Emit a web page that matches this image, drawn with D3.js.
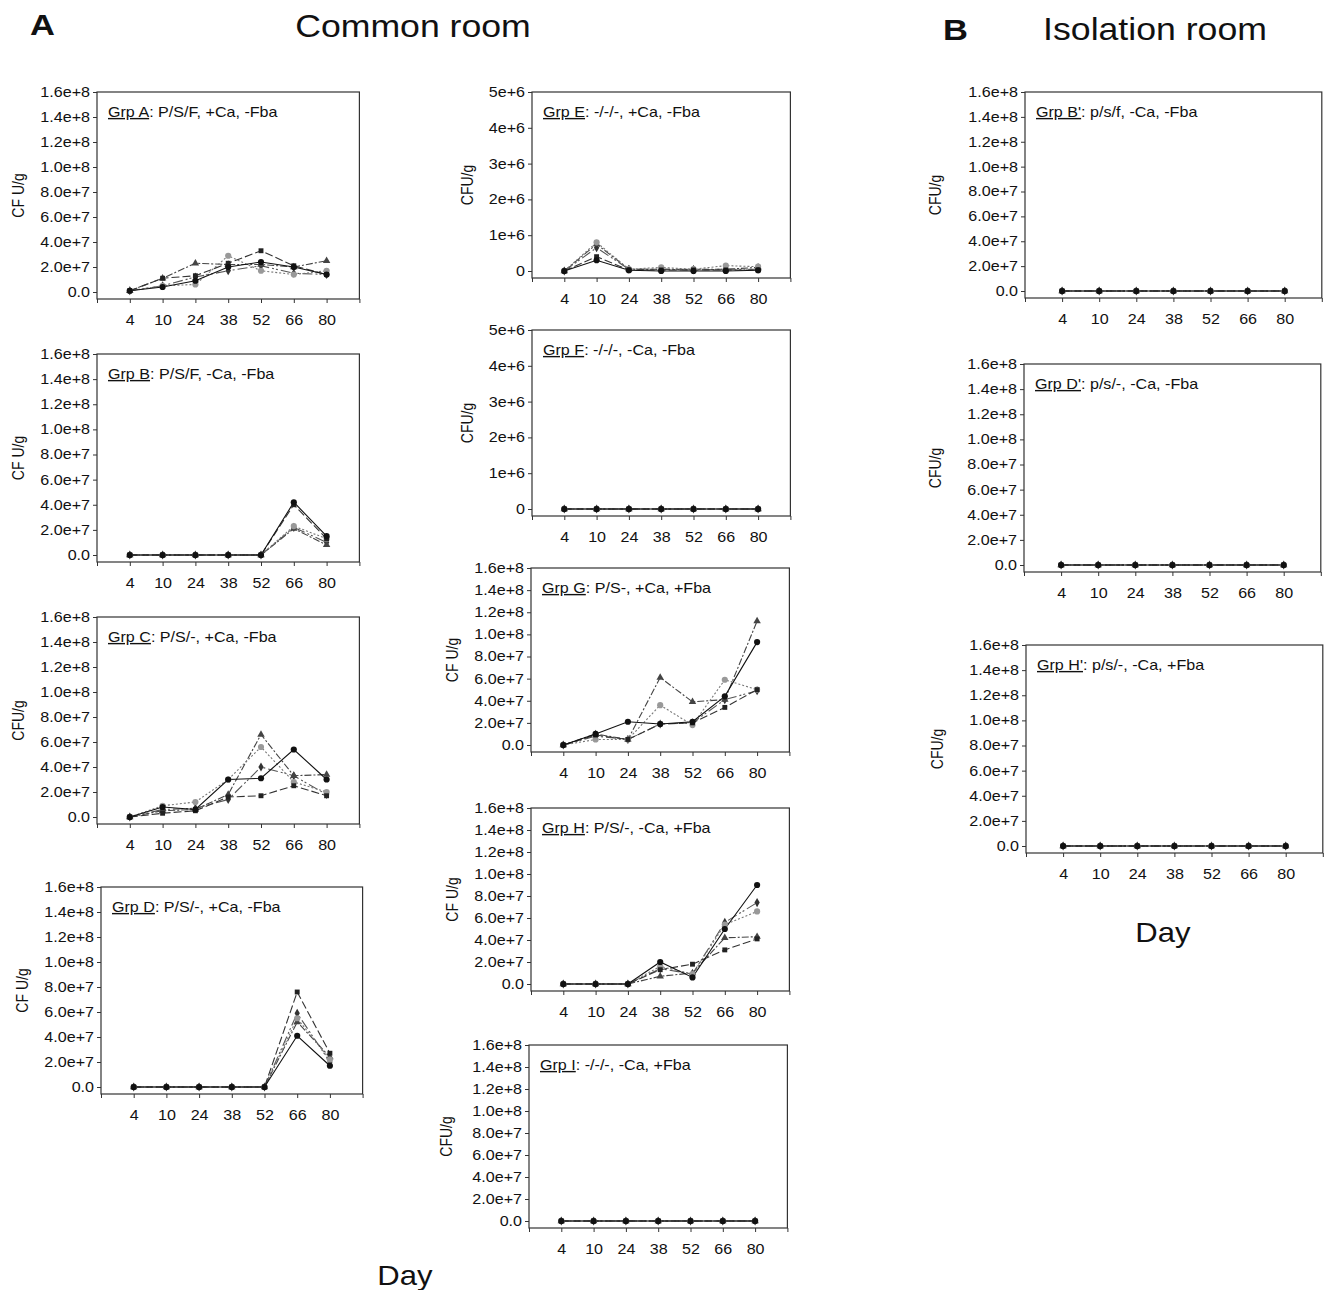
<!DOCTYPE html>
<html>
<head>
<meta charset="utf-8">
<script src="https://cdn.jsdelivr.net/npm/d3@7"></script>
<style>
  body { margin: 0; background: #fff; }
  svg text { font-family: "Liberation Sans", Arial, sans-serif; fill: #111; transform-box: fill-box; }
  .sx { transform: scaleX(1.15); }
  .sy { transform: scaleY(1.15); }
</style>
</head>
<body>
<script>
// sampling days (x categories)
const days = ["4", "10", "24", "38", "52", "66", "80"];

// y tick values
const cfuTicks = [0, 2e7, 4e7, 6e7, 8e7, 1e8, 1.2e8, 1.4e8, 1.6e8];
const lowTicks = [0, 1e6, 2e6, 3e6, 4e6, 5e6];

// five animals per group, CFU/g at each day
const grpA = [
  [1e6, 4e6, 9e6, 2.0e7, 2.4e7, 2.0e7, 1.4e7],
  [1e6, 1.1e7, 1.3e7, 2.3e7, 3.3e7, 2.1e7, 1.4e7],
  [1e6, 5e6, 6e6, 2.9e7, 1.7e7, 1.4e7, 1.7e7],
  [1e6, 1.1e7, 2.3e7, 2.2e7, 2.2e7, 2.0e7, 2.5e7],
  [1e6, 5e6, 1.2e7, 1.7e7, 2.1e7, 1.5e7, 1.4e7]
];
const grpB = [
  [0, 0, 0, 0, 0, 4.2e7, 1.5e7],
  [0, 0, 0, 0, 0, 4.0e7, 1.3e7],
  [0, 0, 0, 0, 0, 2.3e7, 1.3e7],
  [0, 0, 0, 0, 0, 2.1e7, 0.8e7],
  [0, 0, 0, 0, 0, 2.2e7, 1.0e7]
];
const grpC = [
  [0, 8e6, 6e6, 3.0e7, 3.1e7, 5.4e7, 3.0e7],
  [0, 3e6, 5e6, 1.6e7, 1.7e7, 2.5e7, 1.7e7],
  [0, 9e6, 1.2e7, 3.0e7, 5.6e7, 2.8e7, 2.0e7],
  [0, 5e6, 6e6, 1.8e7, 6.6e7, 3.3e7, 3.4e7],
  [0, 6e6, 7e6, 1.4e7, 4.0e7, 3.3e7, 1.8e7]
];
const grpD = [
  [0, 0, 0, 0, 0, 4.1e7, 1.7e7],
  [0, 0, 0, 0, 0, 7.6e7, 2.7e7],
  [0, 0, 0, 0, 0, 5.5e7, 2.2e7],
  [0, 0, 0, 0, 0, 5.2e7, 2.4e7],
  [0, 0, 0, 0, 0, 5.9e7, 2.0e7]
];
const grpE = [
  [0, 3.0e5, 2e4, 0, 0, 0, 2e4],
  [0, 4.0e5, 3e4, 3e4, 3e4, 3e4, 3e4],
  [0, 8.0e5, 5e4, 1.0e5, 5e4, 1.5e5, 1.2e5],
  [0, 7.5e5, 5e4, 5e4, 5e4, 5e4, 1.0e5],
  [0, 6.5e5, 5e4, 5e4, 3e4, 5e4, 5e4]
];
const grpF = [
  [0, 0, 0, 0, 0, 0, 0],
  [0, 0, 0, 0, 0, 0, 0],
  [0, 0, 0, 0, 0, 0, 0],
  [0, 0, 0, 0, 0, 0, 0],
  [0, 0, 0, 0, 0, 0, 0]
];
const grpG = [
  [0, 1.0e7, 2.1e7, 1.9e7, 2.1e7, 4.4e7, 9.3e7],
  [0, 9e6, 5e6, 1.9e7, 2.0e7, 3.4e7, 5.0e7],
  [0, 5e6, 5e6, 3.6e7, 1.8e7, 5.9e7, 5.0e7],
  [0, 1.0e7, 5e6, 6.1e7, 3.9e7, 4.1e7, 1.12e8],
  [0, 8e6, 5e6, 1.9e7, 2.0e7, 4.1e7, 4.9e7]
];
const grpH = [
  [0, 0, 0, 2.0e7, 6e6, 5.0e7, 9.0e7],
  [0, 0, 0, 1.3e7, 1.8e7, 3.1e7, 4.1e7],
  [0, 0, 0, 1.6e7, 9e6, 5.4e7, 6.6e7],
  [0, 0, 0, 7e6, 1.0e7, 4.2e7, 4.3e7],
  [0, 0, 0, 1.4e7, 9e6, 5.6e7, 7.4e7]
];
const grpI = [
  [0, 0, 0, 0, 0, 0, 0],
  [0, 0, 0, 0, 0, 0, 0],
  [0, 0, 0, 0, 0, 0, 0],
  [0, 0, 0, 0, 0, 0, 0],
  [0, 0, 0, 0, 0, 0, 0]
];
const grpBp = [
  [0, 0, 0, 0, 0, 0, 0],
  [0, 0, 0, 0, 0, 0, 0],
  [0, 0, 0, 0, 0, 0, 0],
  [0, 0, 0, 0, 0, 0, 0],
  [0, 0, 0, 0, 0, 0, 0]
];
const grpDp = [
  [0, 0, 0, 0, 0, 0, 0],
  [0, 0, 0, 0, 0, 0, 0],
  [0, 0, 0, 0, 0, 0, 0],
  [0, 0, 0, 0, 0, 0, 0],
  [0, 0, 0, 0, 0, 0, 0]
];
const grpHp = [
  [0, 0, 0, 0, 0, 0, 0],
  [0, 0, 0, 0, 0, 0, 0],
  [0, 0, 0, 0, 0, 0, 0],
  [0, 0, 0, 0, 0, 0, 0],
  [0, 0, 0, 0, 0, 0, 0]
];

// line style per animal (drawn last to first so the solid line is on top)
const styles = [
  { dash: null, sym: d3.symbolCircle, fill: "#111", stroke: "#111" },
  { dash: "8,3", sym: d3.symbolSquare, fill: "#222", stroke: "#333" },
  { dash: "2,2", sym: d3.symbolCircle, fill: "#999", stroke: "#777" },
  { dash: "7,2,2,2", sym: d3.symbolTriangle, fill: "#444", stroke: "#444" },
  { dash: "10,3,2,2,2,3", sym: d3.symbolDiamond, fill: "#333", stroke: "#555" }
];

const fmtCfu = d => d === 0 ? "0.0" : d3.format(".1e")(d);
const fmtLow = d => d === 0 ? "0" : d3.format(".0e")(d);

// panel layout: box left/top/bottom, category step, y-title offset
const panels = [
  { data: grpA, ticks: cfuTicks, fmt: fmtCfu, grp: "Grp A", desc: ": P/S/F, +Ca, -Fba", yt: "CF U/g", L: 97, T: 92, B: 299, step: 32.8, tx: 79 },
  { data: grpB, ticks: cfuTicks, fmt: fmtCfu, grp: "Grp B", desc: ": P/S/F, -Ca, -Fba", yt: "CF U/g", L: 97, T: 354, B: 562, step: 32.8, tx: 79 },
  { data: grpC, ticks: cfuTicks, fmt: fmtCfu, grp: "Grp C", desc: ": P/S/-, +Ca, -Fba", yt: "CFU/g", L: 97, T: 617, B: 824, step: 32.8, tx: 79 },
  { data: grpD, ticks: cfuTicks, fmt: fmtCfu, grp: "Grp D", desc: ": P/S/-, +Ca, -Fba", yt: "CF U/g", L: 101, T: 887, B: 1094, step: 32.7, tx: 79 },
  { data: grpE, ticks: lowTicks, fmt: fmtLow, grp: "Grp E", desc: ": -/-/-, +Ca, -Fba", yt: "CFU/g", L: 532, T: 92, B: 278, step: 32.3, tx: 65 },
  { data: grpF, ticks: lowTicks, fmt: fmtLow, grp: "Grp F", desc: ": -/-/-, -Ca, -Fba", yt: "CFU/g", L: 532, T: 330, B: 516, step: 32.3, tx: 65 },
  { data: grpG, ticks: cfuTicks, fmt: fmtCfu, grp: "Grp G", desc: ": P/S-, +Ca, +Fba", yt: "CF U/g", L: 531, T: 568, B: 752, step: 32.3, tx: 79 },
  { data: grpH, ticks: cfuTicks, fmt: fmtCfu, grp: "Grp H", desc: ": P/S/-, -Ca, +Fba", yt: "CF U/g", L: 531, T: 808, B: 991, step: 32.3, tx: 79 },
  { data: grpI, ticks: cfuTicks, fmt: fmtCfu, grp: "Grp I", desc: ": -/-/-, -Ca, +Fba", yt: "CFU/g", L: 529, T: 1045, B: 1228, step: 32.3, tx: 83 },
  { data: grpBp, ticks: cfuTicks, fmt: fmtCfu, grp: "Grp B'", desc: ": p/s/f, -Ca, -Fba", yt: "CFU/g", L: 1025, T: 92, B: 298, step: 37.1, tx: 90 },
  { data: grpDp, ticks: cfuTicks, fmt: fmtCfu, grp: "Grp D'", desc: ": p/s/-, -Ca, -Fba", yt: "CFU/g", L: 1024, T: 364, B: 572, step: 37.1, tx: 89 },
  { data: grpHp, ticks: cfuTicks, fmt: fmtCfu, grp: "Grp H'", desc: ": p/s/-, -Ca, +Fba", yt: "CFU/g", L: 1026, T: 645, B: 853, step: 37.1, tx: 89 }
];

const width = 1324, height = 1290;

const svg = d3.select("body").append("svg")
    .attr("width", width)
    .attr("height", height);

function drawPanel(p) {
  const g = svg.append("g");
  const R = p.L + 8 * p.step;
  const x = d3.scaleLinear().domain([-1, 7]).range([p.L, R]);
  const y = d3.scaleLinear().domain([0, d3.max(p.ticks)]).range([p.B - 7, p.T]);

  g.append("rect")
      .attr("x", p.L).attr("y", p.T)
      .attr("width", R - p.L).attr("height", p.B - p.T)
      .attr("fill", "none").attr("stroke", "#333").attr("stroke-width", 1.2);

  const ya = g.append("g")
      .attr("transform", `translate(${p.L},0)`)
      .call(d3.axisLeft(y).tickValues(p.ticks).tickFormat(p.fmt).tickSize(4).tickSizeOuter(0).tickPadding(3));
  ya.select(".domain").remove();
  ya.selectAll("line").attr("stroke", "#333");
  ya.selectAll("text")
      .attr("font-size", 14)
      .attr("fill", "#111")
      .attr("font-family", null)
      .attr("class", "sx")
      .style("transform-origin", "100% 50%");

  const xa = g.append("g")
      .attr("transform", `translate(0,${p.B})`)
      .call(d3.axisBottom(x).tickValues(d3.range(-1, 8)).tickFormat(i => days[i] || "").tickSize(4).tickSizeOuter(0).tickPadding(12));
  xa.select(".domain").remove();
  xa.selectAll("line").attr("stroke", "#333");
  xa.selectAll("text")
      .attr("font-size", 14)
      .attr("fill", "#111")
      .attr("font-family", null)
      .attr("class", "sx")
      .style("transform-origin", "50% 50%");

  const line = d3.line()
      .x((d, i) => x(i))
      .y(d => y(d));

  const series = p.data.map((vals, k) => ({ vals, st: styles[k] })).reverse();

  g.selectAll("path.series")
    .data(series)
    .join("path")
      .attr("class", "series")
      .attr("d", d => line(d.vals))
      .attr("fill", "none")
      .attr("stroke", d => d.st.stroke)
      .attr("stroke-width", 1.1)
      .attr("stroke-dasharray", d => d.st.dash);

  series.forEach(s => {
    g.selectAll(null)
      .data(s.vals)
      .join("path")
        .attr("transform", (d, i) => `translate(${x(i)},${y(d)})`)
        .attr("d", d3.symbol().type(s.st.sym).size(s.st.sym === d3.symbolCircle ? 30 : 24))
        .attr("fill", s.st.fill);
  });

  const t = g.append("text")
      .attr("x", p.L + 11)
      .attr("y", p.T + 25)
      .attr("font-size", 14)
      .attr("class", "sx")
      .style("transform-origin", "0% 50%");
  t.append("tspan").attr("text-decoration", "underline").text(p.grp);
  t.append("tspan").text(p.desc);

  g.append("g")
      .attr("transform", `translate(${p.L - p.tx},${(p.T + p.B) / 2}) rotate(-90)`)
    .append("text")
      .attr("text-anchor", "middle")
      .attr("dy", "0.35em")
      .attr("font-size", 14)
      .attr("class", "sy")
      .style("transform-origin", "50% 50%")
      .text(p.yt);
}

panels.forEach(drawPanel);

// headings
svg.append("text").attr("x", 30).attr("y", 35).attr("font-size", 30).attr("font-weight", "bold")
    .attr("class", "sx").style("transform-origin", "0% 50%").text("A");
svg.append("text").attr("x", 413).attr("y", 37).attr("font-size", 31).attr("text-anchor", "middle")
    .attr("class", "sx").style("transform-origin", "50% 50%").text("Common room");
svg.append("text").attr("x", 943).attr("y", 40).attr("font-size", 30).attr("font-weight", "bold")
    .attr("class", "sx").style("transform-origin", "0% 50%").text("B");
svg.append("text").attr("x", 1155).attr("y", 40).attr("font-size", 31).attr("text-anchor", "middle")
    .attr("class", "sx").style("transform-origin", "50% 50%").text("Isolation room");
svg.append("text").attr("x", 405).attr("y", 1285).attr("font-size", 27).attr("text-anchor", "middle")
    .attr("class", "sx").style("transform-origin", "50% 50%").text("Day");
svg.append("text").attr("x", 1163).attr("y", 942).attr("font-size", 27).attr("text-anchor", "middle")
    .attr("class", "sx").style("transform-origin", "50% 50%").text("Day");
</script>
</body>
</html>
